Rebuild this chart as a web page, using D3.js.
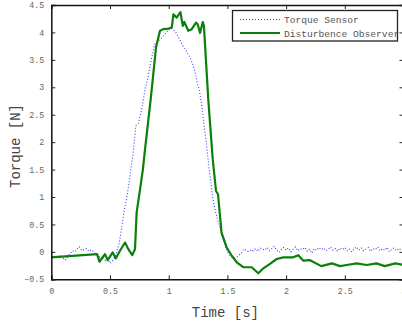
<!DOCTYPE html>
<html>
<head>
<meta charset="utf-8">
<script src="https://cdn.jsdelivr.net/npm/d3@7"></script>
<style>
  body { margin: 0; background: #fff; }
  svg { display: block; }
</style>
</head>
<body>
<svg id="chart" width="402" height="324"></svg>
<script>
// torque sensor (dotted blue), sampled every 0.02 s
var sensorTime = d3.range(0, 151).map(function(i) { return i * 0.02; });
var sensorValues = [
  -0.08, -0.09, -0.07, -0.10, -0.06, -0.12, -0.15, -0.09, -0.03, 0.02,
   0.00,  0.06,  0.09,  0.02,  0.05,  0.06,  0.01,  0.04,  0.00, -0.04,
  -0.06, -0.12, -0.09, -0.16, -0.13, -0.21, -0.17, -0.10,  0.02,  0.18,
   0.45,  0.75,  0.95,  1.22,  1.55,  1.85,  2.30,  2.34,  2.50,  2.72,
   2.98,  3.15,  3.38,  3.58,  3.78,  3.84,  3.86,  3.90,  3.95,  4.00,
   4.06,  4.08,  4.05,  4.00,  3.92,  3.85,  3.76,  3.70,  3.62,  3.55,
   3.45,  3.32,  3.10,  2.96,  2.70,  2.32,  2.00,  1.60,  1.25,  0.92,
   0.72,  0.56,  0.42,  0.25,  0.11,  0.01, -0.07, -0.09, -0.11, -0.10,
  -0.06, -0.02,  0.05,  0.03,  0.00,  0.04,  0.02,  0.06,  0.01,  0.07,
   0.05,  0.03,  0.08,  0.02,  0.06,  0.10,  0.03, -0.01,  0.05,  0.08,
   0.03,  0.07,  0.00,  0.05,  0.09,  0.02,  0.06,  0.04,  0.08,  0.01,
   0.05, -0.02,  0.06,  0.03,  0.08,  0.04,  0.07,  0.02,  0.05,  0.09,
   0.03,  0.06,  0.01,  0.07,  0.04,  0.08,  0.02,  0.05,  0.00,  0.06,
   0.09,  0.03,  0.07,  0.02,  0.05,  0.08,  0.01,  0.06,  0.04,  0.09,
   0.02,  0.06,  0.03,  0.08,  0.00,  0.05,  0.07,  0.02,  0.06,  0.04,
   0.03
];

// disturbance observer estimate (solid green)
var observerTime = [
  0, 0.39, 0.41, 0.457, 0.48, 0.523, 0.549, 0.585, 0.628, 0.656,
  0.69, 0.713, 0.727, 0.756, 0.78, 0.80, 0.85, 0.892, 0.926, 0.954,
  1.0, 1.026, 1.04, 1.068, 1.10, 1.12, 1.133, 1.167, 1.196, 1.233,
  1.247, 1.267, 1.29, 1.30, 1.337, 1.375, 1.403, 1.42, 1.45, 1.494,
  1.54, 1.58, 1.635, 1.707, 1.763, 1.806, 1.863, 1.92, 1.976, 2.06,
  2.104, 2.147, 2.20, 2.30, 2.39, 2.46, 2.516, 2.60, 2.687, 2.77,
  2.84, 2.93, 3.0
];
var observerValues = [
  -0.10, -0.04, -0.18, -0.04, -0.15, -0.01, -0.12, 0.02, 0.17, 0.05,
  -0.06, 0.05, 0.72, 1.14, 1.50, 1.90, 2.85, 3.73, 4.03, 4.06,
  4.07, 4.09, 4.33, 4.27, 4.37, 4.12, 4.19, 4.03, 4.06, 4.18,
  4.15, 3.99, 4.19, 4.12, 2.78, 1.69, 1.11, 1.05, 0.35, 0.08,
  -0.08, -0.19, -0.28, -0.28, -0.39, -0.30, -0.22, -0.13, -0.10, -0.10,
  -0.06, -0.16, -0.15, -0.26, -0.21, -0.26, -0.24, -0.21, -0.24, -0.21,
  -0.26, -0.21, -0.24
];

var xTicks = [0, 0.5, 1, 1.5, 2, 2.5, 3];
var yTicks = [-0.5, 0, 0.5, 1, 1.5, 2, 2.5, 3, 3.5, 4, 4.5];
var legendNames = ["Torque Sensor", "Disturbence Observer"];

var mono = "'Liberation Mono', 'DejaVu Sans Mono', monospace";
var plotLeft = 51.3, plotTop = 5, plotRight = 403.5, plotBottom = 279.3;

var svg = d3.select("#chart");

var x = d3.scaleLinear().domain([0, 3]).range([plotLeft, plotRight]);
var y = d3.scaleLinear().domain([-0.5, 4.5]).range([plotBottom, plotTop]);

function fmt(d) { return String(d).replace("-", "\u2212"); }

// curves
var line = d3.line()
  .x(function(d) { return x(d[0]); })
  .y(function(d) { return y(d[1]); });

svg.append("path")
  .datum(d3.zip(sensorTime, sensorValues))
  .attr("d", line)
  .attr("fill", "none")
  .attr("stroke", "#3a3aff")
  .attr("stroke-width", 1.1)
  .attr("stroke-dasharray", "1,2");

svg.append("path")
  .datum(d3.zip(observerTime, observerValues))
  .attr("d", line)
  .attr("fill", "none")
  .attr("stroke", "#0a800a")
  .attr("stroke-width", 2.2)
  .attr("stroke-linejoin", "round");

// axes, ticks pointing inward on all four sides
var bottomAxis = d3.axisBottom(x).tickValues(xTicks).tickSize(-4).tickPadding(9).tickFormat(fmt);
var leftAxis = d3.axisLeft(y).tickValues(yTicks).tickSize(-4).tickPadding(7).tickFormat(fmt);

svg.append("g")
  .attr("transform", "translate(0," + plotBottom + ")")
  .call(bottomAxis);
svg.append("g")
  .attr("transform", "translate(" + plotLeft + ",0)")
  .call(leftAxis);
svg.append("g")
  .attr("transform", "translate(0," + plotTop + ")")
  .call(d3.axisTop(x).tickValues(xTicks).tickSize(-4).tickFormat(""));
svg.append("g")
  .attr("transform", "translate(" + plotRight + ",0)")
  .call(d3.axisRight(y).tickValues(yTicks).tickSize(-4).tickFormat(""));

svg.selectAll(".domain").attr("stroke", "#111").attr("stroke-width", 1.5);
svg.selectAll(".tick line").attr("stroke", "#222");
svg.selectAll(".tick text")
  .attr("font-family", mono)
  .attr("font-size", 8.3)
  .attr("fill", "#666");

// axis titles
svg.append("text")
  .attr("x", (plotLeft + plotRight) / 2 - 2)
  .attr("y", 316.5)
  .attr("text-anchor", "middle")
  .attr("font-family", mono)
  .attr("font-size", 14)
  .attr("fill", "#444")
  .text("Time [s]");

svg.append("text")
  .attr("transform", "translate(19.5," + 146 + ")rotate(-90)")
  .attr("text-anchor", "middle")
  .attr("font-family", mono)
  .attr("font-size", 14)
  .attr("fill", "#444")
  .text("Torque [N]");

// legend
var legend = svg.append("g");
legend.append("rect")
  .attr("x", 232.5).attr("y", 10.5)
  .attr("width", 165).attr("height", 30.5)
  .attr("fill", "#fff")
  .attr("stroke", "#222")
  .attr("stroke-width", 1.3);

legend.append("line")
  .attr("x1", 240).attr("x2", 280).attr("y1", 19.5).attr("y2", 19.5)
  .attr("stroke", "#3a3aff").attr("stroke-width", 1.1).attr("stroke-dasharray", "1,2");
legend.append("line")
  .attr("x1", 240).attr("x2", 280).attr("y1", 33).attr("y2", 33)
  .attr("stroke", "#0a800a").attr("stroke-width", 2.2);

legend.selectAll("text.name")
  .data(legendNames)
  .enter().append("text")
  .attr("class", "name")
  .attr("x", 284)
  .attr("y", function(d, i) { return 23 + i * 14; })
  .attr("font-family", mono)
  .attr("font-size", 9.6)
  .attr("fill", "#555")
  .text(function(d) { return d; });
</script>
</body>
</html>
